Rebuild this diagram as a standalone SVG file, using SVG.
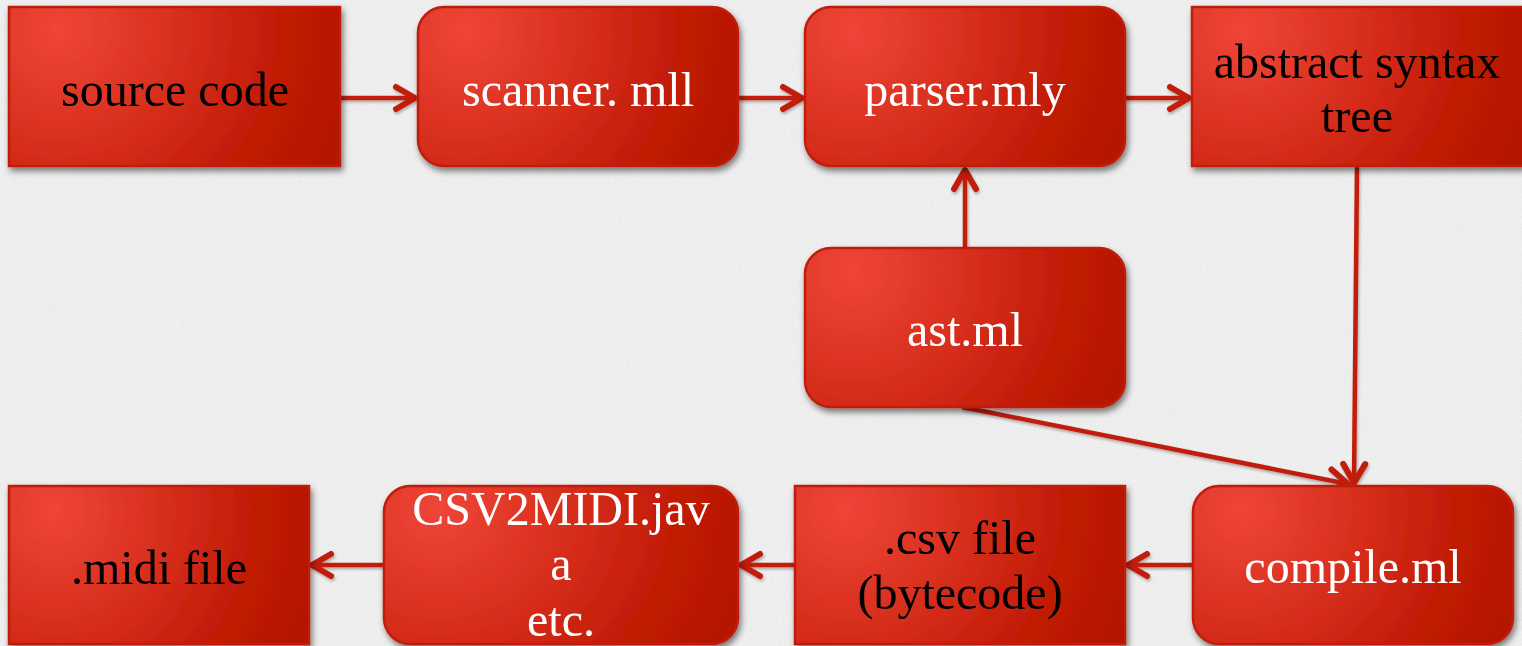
<svg xmlns="http://www.w3.org/2000/svg" width="1522" height="646" viewBox="0 0 1522 646">
<defs>
  <radialGradient id="boxGrad" cx="0.15" cy="0.15" r="0.9" fx="0.15" fy="0.15" gradientTransform="translate(0.15 0.15) scale(1 2) translate(-0.15 -0.15)">
    <stop offset="0" stop-color="#EF4538"/>
    <stop offset="0.45" stop-color="#D52C1A"/>
    <stop offset="0.75" stop-color="#C11B05"/>
    <stop offset="1" stop-color="#B41700"/>
  </radialGradient>
  <filter id="shadow" x="-10%" y="-10%" width="125%" height="130%">
    <feGaussianBlur in="SourceAlpha" stdDeviation="3"/>
    <feOffset dx="2" dy="4" result="b"/>
    <feComponentTransfer><feFuncA type="linear" slope="0.5"/></feComponentTransfer>
    <feMerge><feMergeNode/><feMergeNode in="SourceGraphic"/></feMerge>
  </filter>
  <filter id="lineShadow" x="-5%" y="-5%" width="110%" height="110%">
    <feGaussianBlur in="SourceAlpha" stdDeviation="1.5"/>
    <feOffset dx="1" dy="2"/>
    <feComponentTransfer><feFuncA type="linear" slope="0.3"/></feComponentTransfer>
    <feMerge><feMergeNode/><feMergeNode in="SourceGraphic"/></feMerge>
  </filter>
  <filter id="noise" x="0" y="0" width="100%" height="100%">
    <feTurbulence type="fractalNoise" baseFrequency="0.85" numOctaves="2" seed="7"/>
    <feColorMatrix type="matrix" values="0 0 0 0 1  0 0 0 0 1  0 0 0 0 1  0 0 0 -1.4 1.0"/>
  </filter>
  <marker id="arrow" markerUnits="userSpaceOnUse" markerWidth="34" markerHeight="34" viewBox="-26 -17 34 34" refX="0" refY="0" orient="auto">
    <path d="M -19 -11 L 0 0 L -19 11" fill="none" stroke="#C21E0A" stroke-width="6" stroke-linecap="round" stroke-linejoin="round"/>
  </marker>
  <style>
    .box { fill: url(#boxGrad); stroke: #BF1F0B; stroke-width: 2.5; }
    .dark { font-family: "Liberation Serif", "Times New Roman", serif; font-size: 48px; fill: #000; text-anchor: middle; }
    .light { font-family: "Liberation Serif", "Times New Roman", serif; font-size: 48px; fill: #fff; text-anchor: middle; }
    .conn { fill: none; stroke: #C21E0A; stroke-width: 4.5; marker-end: url(#arrow); }
  </style>
</defs>

<rect x="0" y="0" width="1522" height="646" fill="#EAEAEA"/>
<rect x="0" y="0" width="1522" height="646" filter="url(#noise)" opacity="0.55"/>

<g id="connectors" filter="url(#lineShadow)">
  <line class="conn" x1="340" y1="98" x2="415" y2="98"/>
  <line class="conn" x1="738" y1="98" x2="802" y2="98"/>
  <line class="conn" x1="1125" y1="98" x2="1189" y2="98"/>
  <line class="conn" x1="965" y1="248" x2="965" y2="170"/>
  <line class="conn" x1="1357" y1="167" x2="1354" y2="483"/>
  <line class="conn" x1="962" y1="407" x2="1348" y2="484"/>
  <line class="conn" x1="1193" y1="565" x2="1128" y2="565"/>
  <line class="conn" x1="795" y1="565" x2="741" y2="565"/>
  <line class="conn" x1="384" y1="565" x2="312" y2="565"/>
</g>

<g id="source-code" filter="url(#shadow)">
  <rect class="box" x="9" y="7" width="331" height="159"/>
  <text class="dark" x="175" y="106">source code</text>
</g>
<g id="scanner" filter="url(#shadow)">
  <rect class="box" x="418" y="7" width="320" height="159" rx="26" ry="26"/>
  <text class="light" x="578" y="106">scanner. mll</text>
</g>
<g id="parser" filter="url(#shadow)">
  <rect class="box" x="805" y="7" width="320" height="159" rx="26" ry="26"/>
  <text class="light" x="965" y="106">parser.mly</text>
</g>
<g id="abstract-syntax-tree" filter="url(#shadow)">
  <rect class="box" x="1192" y="7" width="331" height="159"/>
  <text class="dark" x="1357" y="78">abstract syntax</text>
  <text class="dark" x="1357" y="132">tree</text>
</g>
<g id="ast-ml" filter="url(#shadow)">
  <rect class="box" x="805" y="248" width="320" height="159" rx="26" ry="26"/>
  <text class="light" x="965" y="346">ast.ml</text>
</g>
<g id="midi-file" filter="url(#shadow)">
  <rect class="box" x="9" y="486" width="300" height="158"/>
  <text class="dark" x="159" y="584">.midi file</text>
</g>
<g id="csv2midi" filter="url(#shadow)">
  <rect class="box" x="384" y="486" width="354" height="158" rx="26" ry="26"/>
  <text class="light" x="561" y="525">CSV2MIDI.jav</text>
  <text class="light" x="561" y="580">a</text>
  <text class="light" x="561" y="636">etc.</text>
</g>
<g id="csv-file" filter="url(#shadow)">
  <rect class="box" x="795" y="486" width="330" height="158"/>
  <text class="dark" x="960" y="554">.csv file</text>
  <text class="dark" x="960" y="609">(bytecode)</text>
</g>
<g id="compile-ml" filter="url(#shadow)">
  <rect class="box" x="1193" y="486" width="320" height="158" rx="26" ry="26"/>
  <text class="light" x="1353" y="583">compile.ml</text>
</g>
</svg>
